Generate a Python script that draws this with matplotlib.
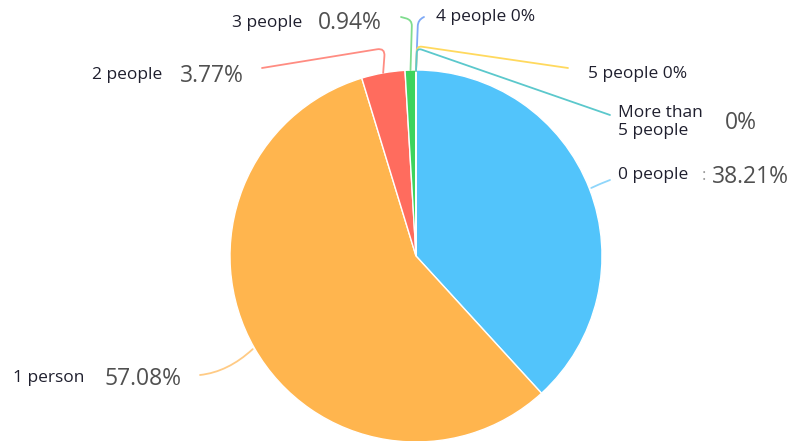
import numpy as np
import matplotlib
matplotlib.use("Agg")
import matplotlib.pyplot as plt
from matplotlib.path import Path
from matplotlib.patches import PathPatch

plt.rcParams['font.family'] = ['Open Sans', 'DejaVu Sans']

# household members -> share of respondents (%)
categories = ['0 people', '1 person', '2 people', '3 people',
              '4 people', '5 people', 'More than\n5 people']
shares = [38.21, 57.08, 3.77, 0.94, 0, 0, 0]
pct_labels = ['38.21%', '57.08%', '3.77%', '0.94%', '0%', '0%', '0%']

wedge_colors = ['#52c4fb', '#ffb54e', '#ff6c5e', '#3dd45e',
                '#6f9ff5', '#ffd54a', '#4fc4c9']
line_colors = ['#8fd6fb', '#ffcb85', '#ff8c82', '#7fdc8e',
               '#7ea9f6', '#ffd95e', '#5bc8cc']

W, H = 794, 441
fig = plt.figure(figsize=(W / 100, H / 100), dpi=100)
ax = fig.add_axes([0, 0, 1, 1])

cx, cy, r = 416, H - 256, 186
wedges, _ = ax.pie(shares, colors=wedge_colors, startangle=90, counterclock=False,
                   center=(cx, cy), radius=r, frame=True,
                   wedgeprops=dict(edgecolor='white', linewidth=1))
ax.set_xlim(0, W)
ax.set_ylim(0, H)
ax.set_aspect('equal')
ax.axis('off')


def P(x, y):
    return np.array([x, H - y], dtype=float)


def edge(i, dr=0):
    w = wedges[i]
    a = np.deg2rad((w.theta1 + w.theta2) / 2)
    return np.array([cx + (r + dr) * np.cos(a), cy + (r + dr) * np.sin(a)])


def leader(start, bend, end, color, rad=8):
    d1 = start - bend
    d2 = end - bend
    pa = bend + d1 / np.linalg.norm(d1) * rad
    pb = bend + d2 / np.linalg.norm(d2) * rad
    path = Path([start, pa, bend, pb, end],
                [Path.MOVETO, Path.LINETO, Path.CURVE3, Path.CURVE3, Path.LINETO])
    ax.add_patch(PathPatch(path, fill=False, edgecolor=color, lw=1.3,
                           capstyle='round'))


def curve(start, ctrl, end, color):
    path = Path([start, ctrl, end], [Path.MOVETO, Path.CURVE3, Path.CURVE3])
    ax.add_patch(PathPatch(path, fill=False, edgecolor=color, lw=1.3,
                           capstyle='round'))


top = P(416, 71)
leader(edge(0, 2), P(600, 184), P(610, 180), line_colors[0], rad=2)
curve(edge(1, 2), P(228, 372), P(200, 375), line_colors[1])
leader(edge(2), P(385, 48), P(262, 68), line_colors[2])
leader(edge(3), P(412, 20), P(401, 17), line_colors[3], rad=6)
leader(top, P(418, 20), P(424, 17), line_colors[4], rad=6)
leader(top, P(417, 46), P(568, 68), line_colors[5], rad=5)
leader(top, P(417, 48), P(610, 115), line_colors[6], rad=5)

name_kw = dict(fontsize=12.5, color='#1f1f2e', va='center')
pct_kw = dict(fontsize=16.5, color='#505050', va='center')

label_pos = {
    0: (P(618, 175), P(712, 177)),
    1: (P(13, 378), P(104, 379)),
    2: (P(92, 75), P(180, 76)),
    3: (P(232, 23), P(318, 23)),
}
for i, (pn, pp) in label_pos.items():
    ax.text(pn[0], pn[1], categories[i], **name_kw)
    ax.text(pp[0], pp[1], pct_labels[i], **pct_kw)
ax.text(*P(702, 176), ':', fontsize=12, color='#999999', va='center')

ax.text(*P(436, 17), categories[4] + ' ' + pct_labels[4], **name_kw)
ax.text(*P(588, 74), categories[5] + ' ' + pct_labels[5], **name_kw)
ax.text(*P(618, 122), categories[6], linespacing=1.2, **name_kw)
ax.text(*P(725, 123), pct_labels[6], **pct_kw)

fig.savefig('out.png', dpi=100, facecolor='white')
